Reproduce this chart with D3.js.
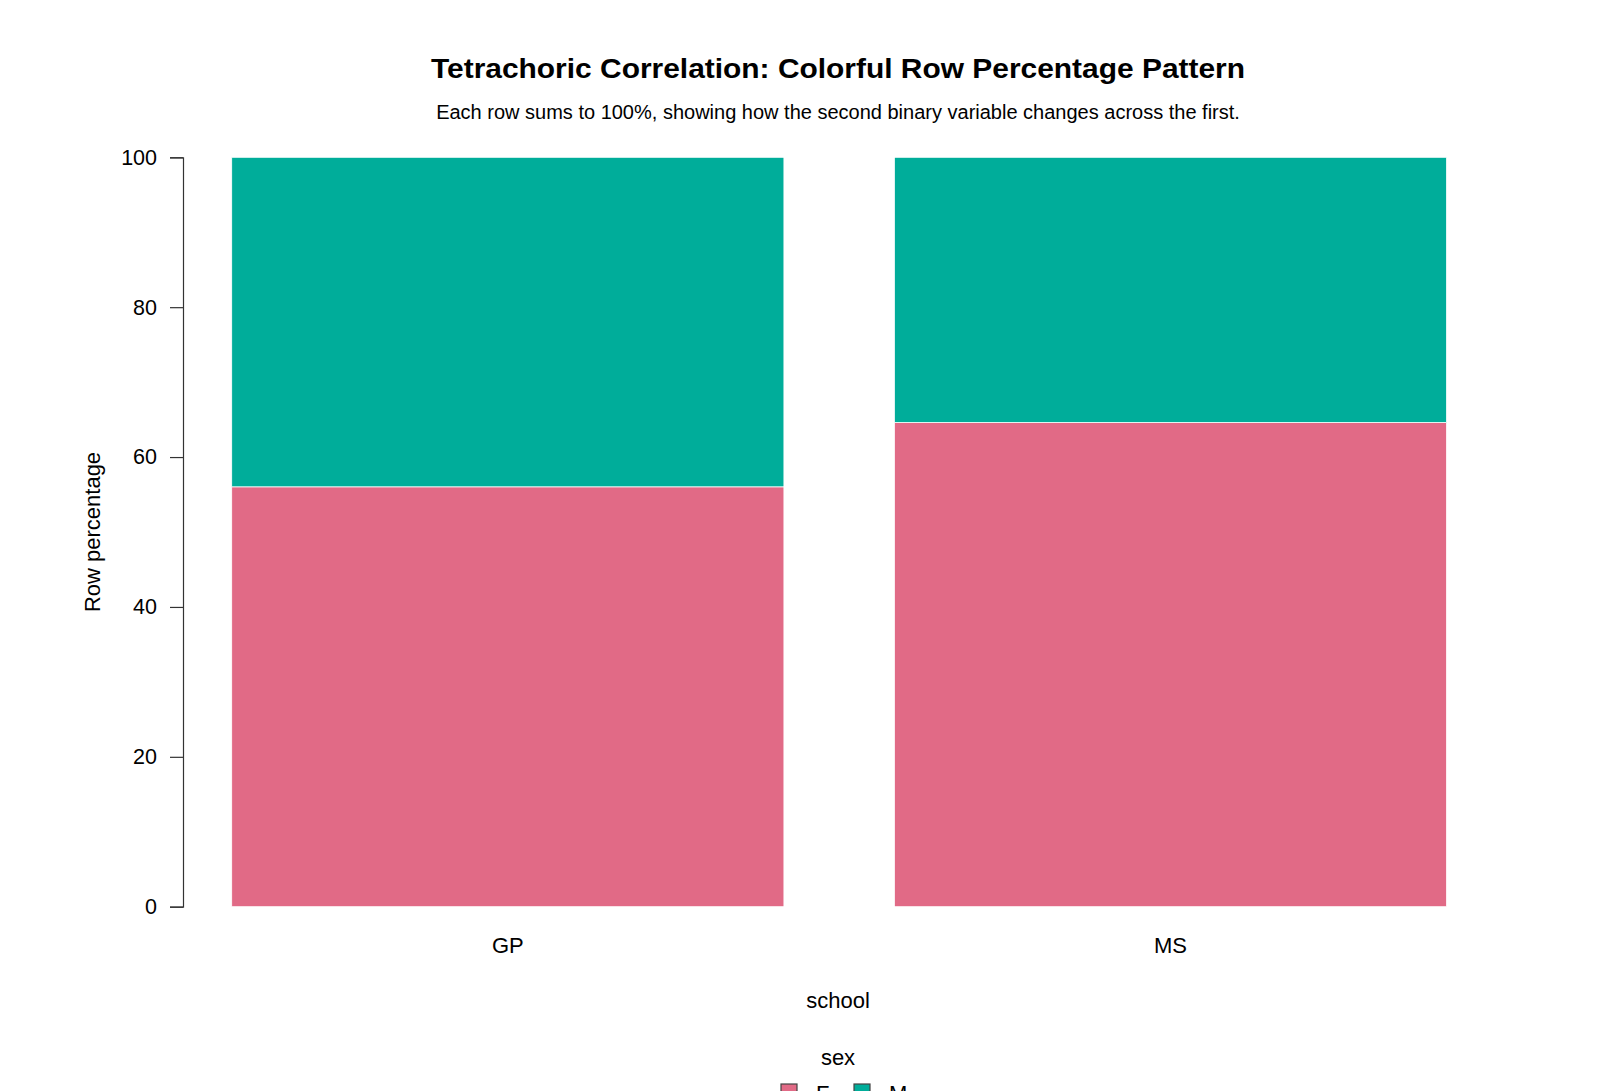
<!DOCTYPE html>
<html>
<head>
<meta charset="utf-8">
<script src="https://cdn.jsdelivr.net/npm/d3@7"></script>
<style>
  body { margin: 0; background: #fff; }
  text { font-family: "Liberation Sans", Arial, sans-serif; fill: #000; }
</style>
</head>
<body>
<svg id="chart" width="1600" height="1091"></svg>
<script>
var schools = ["GP", "MS"];
var sexes = ["F", "M"];
var pctF = [56.03, 64.60];
var pctM = [43.97, 35.40];
var yTicks = [0, 20, 40, 60, 80, 100];
var colors = ["#E16A86", "#00AD9A"];

var svg = d3.select("#chart");

var x = d3.scaleBand()
    .domain(schools)
    .range([176.5, 1501.8])
    .paddingInner(0.1667)
    .paddingOuter(0.0833);

var y = d3.scaleLinear()
    .domain([0, 100])
    .range([906.7, 157.3]);

var color = d3.scaleOrdinal().domain(sexes).range(colors);

// stacked rows
var rows = schools.map(function(s, i) {
    return { school: s, F: pctF[i], M: pctM[i] };
});
var stack = d3.stack().keys(sexes)(rows);

svg.append("g")
    .selectAll("g")
    .data(stack)
    .enter().append("g")
    .attr("fill", function(d) { return color(d.key); })
    .selectAll("rect")
    .data(function(d) { return d; })
    .enter().append("rect")
    .attr("x", function(d) { return x(d.data.school); })
    .attr("width", x.bandwidth())
    .attr("y", function(d) { return y(d[1]); })
    .attr("height", function(d) { return y(d[0]) - y(d[1]); })
    .attr("stroke", "#ffffff")
    .attr("stroke-width", 0.8);

// y axis
var yAxis = svg.append("g")
    .attr("transform", "translate(183,0)")
    .call(d3.axisLeft(y).tickValues(yTicks).tickSize(13).tickPadding(13));
yAxis.select(".domain").attr("stroke", "#333").attr("stroke-width", 1.2);
yAxis.selectAll(".tick line").attr("stroke", "#333").attr("stroke-width", 1.2);
yAxis.selectAll(".tick text")
    .attr("font-size", 21.5)
    .attr("font-family", "Liberation Sans, Arial, sans-serif")
    .attr("fill", "#000");

// x labels (no axis line)
svg.append("g")
    .selectAll("text")
    .data(schools)
    .enter().append("text")
    .attr("x", function(d) { return x(d) + x.bandwidth() / 2; })
    .attr("y", 953)
    .attr("text-anchor", "middle")
    .attr("font-size", 22)
    .text(function(d) { return d; });

// titles
svg.append("text")
    .attr("x", 838).attr("y", 78)
    .attr("text-anchor", "middle")
    .attr("font-size", 28)
    .attr("font-weight", "bold")
    .attr("textLength", 814)
    .attr("lengthAdjust", "spacingAndGlyphs")
    .text("Tetrachoric Correlation: Colorful Row Percentage Pattern");

svg.append("text")
    .attr("x", 838).attr("y", 119)
    .attr("text-anchor", "middle")
    .attr("font-size", 20)
    .text("Each row sums to 100%, showing how the second binary variable changes across the first.");

svg.append("text")
    .attr("x", 838).attr("y", 1008)
    .attr("text-anchor", "middle")
    .attr("font-size", 22)
    .text("school");

svg.append("text")
    .attr("transform", "translate(100,532) rotate(-90)")
    .attr("text-anchor", "middle")
    .attr("font-size", 22)
    .text("Row percentage");

// legend
svg.append("text")
    .attr("x", 838).attr("y", 1065)
    .attr("text-anchor", "middle")
    .attr("font-size", 22)
    .text("sex");

var legendX = [781, 854];
var lg = svg.append("g")
    .selectAll("g")
    .data(sexes)
    .enter().append("g")
    .attr("transform", function(d, i) { return "translate(" + legendX[i] + ",1084)"; });
lg.append("rect")
    .attr("width", 16).attr("height", 16)
    .attr("fill", function(d) { return color(d); })
    .attr("stroke", "#444").attr("stroke-width", 1.2);
lg.append("text")
    .attr("x", 35).attr("y", 17)
    .attr("font-size", 22)
    .text(function(d) { return d; });
</script>
</body>
</html>
